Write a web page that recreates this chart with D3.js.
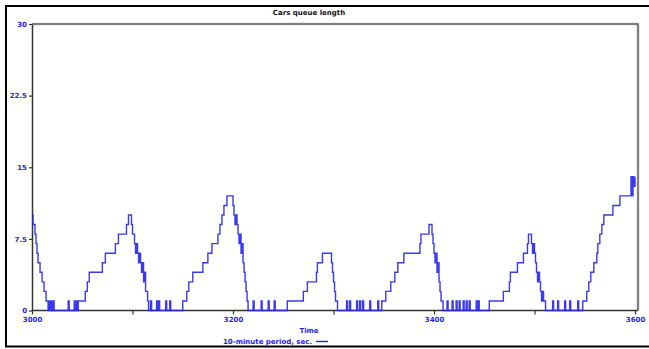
<!DOCTYPE html>
<html>
<head>
<meta charset="utf-8">
<script src="https://cdn.jsdelivr.net/npm/d3@7"></script>
<style>
  body { margin: 0; background: #fff; }
  svg { display: block; }
</style>
</head>
<body>
<script>
// basic settings
const width = 649;
const height = 349;
const marginTop = 24;
const marginLeft = 32;
const plotRight = 635;
const plotBottom = 310.5;

const title = "Cars queue length";
const xTitle = "Time";
const legendLabel = "10-minute period, sec.";

const xTicks = [3000, 3100, 3200, 3300, 3400, 3500, 3600];
const xTickLabels = [3000, 3200, 3400, 3600];
const yTicks = [0, 7.5, 15, 22.5, 30];

// queue length (step series), one row per stretch
const times = [
  3000, 3001, 3003, 3004, 3005, 3006, 3008, 3010, 3012, 3014, 3016, 3017, 3018, 3019, 3020, 3021, 3022,
  3036, 3037, 3042, 3043, 3044, 3045, 3046, 3053, 3055, 3057, 3070, 3073, 3083, 3086, 3094, 3096,
  3099, 3100, 3102, 3103, 3104, 3105, 3106, 3107, 3108, 3109, 3110, 3111, 3112, 3113, 3115,
  3116, 3118, 3119, 3124, 3125, 3126, 3127, 3133, 3134, 3137, 3138,
  3150, 3154, 3156, 3160, 3170, 3175, 3179, 3185, 3187, 3189, 3191, 3194,
  3200, 3201, 3202, 3203, 3204, 3205, 3206, 3207, 3208, 3209, 3210, 3211, 3212, 3213, 3214, 3215,
  3220, 3221, 3228, 3229, 3235, 3236, 3241, 3242,
  3254, 3270, 3274, 3283, 3284, 3289, 3298, 3299, 3300, 3301, 3302, 3304,
  3313, 3314, 3316, 3317, 3323, 3324, 3326, 3327, 3329, 3330, 3336, 3337, 3344, 3345,
  3348, 3352, 3357, 3361, 3364, 3370, 3386, 3387, 3395, 3398, 3399, 3400, 3401, 3402, 3403, 3404, 3405, 3406, 3407, 3409,
  3413, 3414, 3418, 3419, 3422, 3423, 3425, 3426, 3429, 3430, 3432, 3433, 3435, 3436, 3442, 3443, 3444, 3445,
  3455, 3469, 3475, 3476, 3483, 3489, 3493, 3494, 3497, 3498, 3499, 3500, 3501, 3502, 3503, 3504, 3505, 3506, 3507, 3508, 3509, 3511,
  3518, 3519, 3523, 3524, 3530, 3531, 3535, 3536, 3543, 3544,
  3548, 3552, 3554, 3556, 3559, 3562, 3563, 3565, 3567, 3569, 3578, 3585, 3596, 3597, 3598, 3599, 3600
];
const queue = [
  10, 9, 8, 7, 6, 5, 4, 3, 2, 1, 0, 1, 0, 1, 0, 1, 0,
  1, 0, 1, 0, 1, 0, 1, 2, 3, 4, 5, 6, 7, 8, 9, 10,
  9, 8, 7, 6, 7, 6, 5, 6, 5, 4, 5, 3, 4, 2, 1,
  0, 1, 0, 1, 0, 1, 0, 1, 0, 1, 0,
  1, 2, 3, 4, 5, 6, 7, 8, 9, 10, 11, 12,
  11, 10, 9, 10, 9, 8, 7, 8, 6, 7, 5, 4, 3, 2, 1, 0,
  1, 0, 1, 0, 1, 0, 1, 0,
  1, 2, 3, 4, 5, 6, 5, 4, 3, 2, 1, 0,
  1, 0, 1, 0, 1, 0, 1, 0, 1, 0, 1, 0, 1, 0,
  1, 2, 3, 4, 5, 6, 7, 8, 9, 8, 7, 6, 5, 6, 4, 5, 3, 2, 1, 0,
  1, 0, 1, 0, 1, 0, 1, 0, 1, 0, 1, 0, 1, 0, 1, 0, 1, 0,
  1, 2, 3, 4, 5, 6, 7, 8, 7, 6, 7, 6, 5, 4, 3, 4, 3, 2, 1, 2, 1, 0,
  1, 0, 1, 0, 1, 0, 1, 0, 1, 0,
  1, 2, 3, 4, 5, 6, 7, 8, 9, 10, 11, 12, 14, 12, 14, 13, 14
];

const data = times.map((t, i) => ({ t: t, v: queue[i] }));

const svg = d3.select('body')
  .append('svg')
  .attr('width', width)
  .attr('height', height);

const x = d3.scaleLinear().domain([3000, 3600]).range([marginLeft, plotRight]);
const y = d3.scaleLinear().domain([0, 30]).range([plotBottom, marginTop]);

const blue = '#2424ee';
const font = "'DejaVu Sans', Verdana, sans-serif";

// outer frame (right side runs off the picture)
svg.append('path')
  .attr('d', `M${width + 5},6 H6 V346.5 H${width + 5}`)
  .attr('fill', 'none')
  .attr('stroke', '#000')
  .attr('stroke-width', 2);

// plot frame top / right
const framePath = `M${marginLeft},${marginTop} H${x(3600) + 3} V${plotBottom}`;
svg.append('path')
  .attr('d', framePath)
  .attr('fill', 'none')
  .attr('stroke', '#aaa')
  .attr('stroke-width', 2.5);
svg.append('path')
  .attr('d', framePath)
  .attr('fill', 'none')
  .attr('stroke', '#555')
  .attr('stroke-width', 1);

// axes
const xAxis = d3.axisBottom(x)
  .tickValues(xTicks)
  .tickSize(4)
  .tickSizeOuter(0)
  .tickPadding(3)
  .tickFormat(d => xTickLabels.includes(d) ? d : '');

const yAxis = d3.axisLeft(y)
  .tickValues(yTicks)
  .tickSize(3)
  .tickSizeOuter(0)
  .tickPadding(2)
  .tickFormat(d => d);

const gx = svg.append('g')
  .attr('transform', `translate(0,${plotBottom})`)
  .call(xAxis);
gx.select('.domain').attr('d', `M${marginLeft},0H${x(3600) + 3}`);

const gy = svg.append('g')
  .attr('transform', `translate(${marginLeft},0)`)
  .call(yAxis);

[gx, gy].forEach(g => {
  g.select('.domain').attr('stroke', '#333').attr('stroke-width', 1.5);
  g.selectAll('.tick line').attr('stroke', '#333').attr('stroke-width', 1.2);
  g.selectAll('.tick text')
    .attr('fill', blue)
    .attr('font-family', font)
    .attr('font-weight', 'bold')
    .attr('font-size', 7);
});

// queue line
const line = d3.line()
  .x(d => x(d.t))
  .y(d => y(d.v))
  .curve(d3.curveStepAfter);

svg.append('path')
  .datum(data)
  .attr('d', line)
  .attr('fill', 'none')
  .attr('stroke', blue)
  .attr('stroke-width', 1.4)
  .attr('stroke-opacity', 0.9);

// titles
svg.append('text')
  .attr('x', 309)
  .attr('y', 15)
  .attr('text-anchor', 'middle')
  .attr('font-family', font)
  .attr('font-weight', 'bold')
  .attr('font-size', 7)
  .attr('fill', '#111')
  .text(title);

svg.append('text')
  .attr('x', 309)
  .attr('y', 333)
  .attr('text-anchor', 'middle')
  .attr('font-family', font)
  .attr('font-weight', 'bold')
  .attr('font-size', 7)
  .attr('fill', blue)
  .text(xTitle);

// legend
svg.append('text')
  .attr('x', 223)
  .attr('y', 344)
  .attr('font-family', font)
  .attr('font-weight', 'bold')
  .attr('font-size', 7)
  .attr('fill', blue)
  .text(legendLabel);

svg.append('line')
  .attr('x1', 316).attr('x2', 328)
  .attr('y1', 341.5).attr('y2', 341.5)
  .attr('stroke', blue)
  .attr('stroke-width', 1.4);
</script>
</body>
</html>
